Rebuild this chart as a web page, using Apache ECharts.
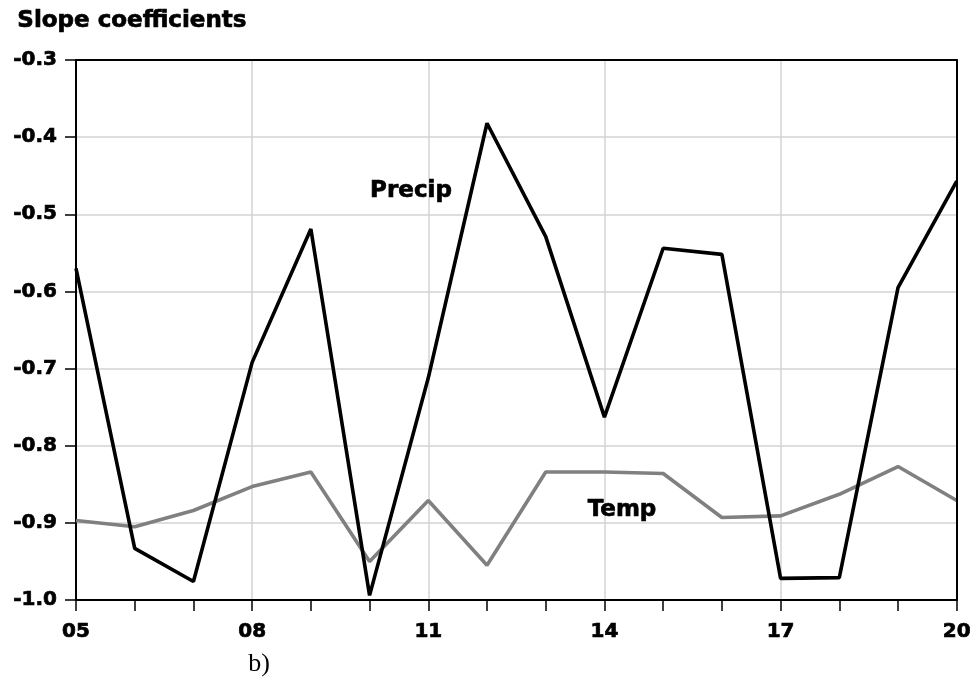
<!DOCTYPE html>
<html>
<head>
<meta charset="utf-8">
<script src="https://cdn.jsdelivr.net/npm/echarts@6/dist/echarts.min.js"></script>
<style>
html,body{margin:0;padding:0;background:#fff;}
#chart{width:974px;height:681px;}
</style>
</head>
<body>
<div id="chart"></div>
<script>
var years = ['05','06','07','08','09','10','11','12','13','14','15','16','17','18','19','20'];
var precip = [-0.570, -0.933, -0.976, -0.692, -0.519, -0.994, -0.712, -0.382, -0.529, -0.763, -0.544, -0.552, -0.972, -0.971, -0.595, -0.457];
var temp = [-0.897, -0.905, -0.884, -0.853, -0.834, -0.950, -0.871, -0.955, -0.834, -0.834, -0.836, -0.893, -0.891, -0.863, -0.827, -0.871];
var yMin = -1.0, yMax = -0.3, yStep = 0.1;

var FONT = 'DejaVu Sans';
var labelStyle = {color: '#000', fontFamily: FONT, fontWeight: 'bold', fontSize: 20, textBorderColor: '#000', textBorderWidth: 0.7};
var chart = echarts.init(document.getElementById('chart'), null, {renderer: 'canvas'});
chart.setOption({
  animation: false,
  backgroundColor: '#ffffff',
  grid: {left: 76, right: 16, top: 60, bottom: 81},
  xAxis: [{
    type: 'category',
    data: years,
    boundaryGap: false,
    axisLine: {show: true, lineStyle: {color: '#000', width: 2}},
    axisTick: {show: true, interval: 0, length: 11, lineStyle: {color: '#000', width: 1.5}},
    axisLabel: Object.assign({interval: 2, margin: 22}, labelStyle),
    splitLine: {show: true, interval: 2, lineStyle: {color: '#d3d3d3', width: 1.5}},
    z: 1
  }, {
    type: 'category',
    data: years,
    position: 'top',
    boundaryGap: false,
    axisLine: {show: true, lineStyle: {color: '#000', width: 2}},
    axisTick: {show: false},
    axisLabel: {show: false},
    splitLine: {show: false},
    z: 5
  }],
  yAxis: [{
    type: 'value',
    min: yMin, max: yMax, interval: yStep,
    axisLine: {show: true, lineStyle: {color: '#000', width: 2}},
    axisTick: {show: true, length: 11, lineStyle: {color: '#000', width: 1.5}},
    axisLabel: Object.assign({margin: 19, formatter: function (v) { return v.toFixed(1); }}, labelStyle),
    splitLine: {show: true, lineStyle: {color: '#d3d3d3', width: 1.5}},
    z: 1
  }, {
    type: 'value',
    position: 'right',
    min: yMin, max: yMax, interval: yStep,
    axisLine: {show: true, lineStyle: {color: '#000', width: 2}},
    axisTick: {show: false},
    axisLabel: {show: false},
    splitLine: {show: false},
    z: 5
  }],
  series: [
    {name: 'Temp', type: 'line', xAxisIndex: 0, yAxisIndex: 0, data: temp, symbol: 'none', lineStyle: {color: '#808080', width: 3.6}, z: 3},
    {name: 'Precip', type: 'line', xAxisIndex: 0, yAxisIndex: 0, data: precip, symbol: 'none', lineStyle: {color: '#000000', width: 3.6}, z: 4}
  ],
  graphic: [
    {type: 'text', left: 17, top: 9, style: {text: 'Slope coefficients', fill: '#000', font: 'bold 23px "DejaVu Sans"', stroke: '#000', lineWidth: 0.7}},
    {type: 'text', x: 411, y: 191, style: {text: 'Precip', fill: '#000', font: 'bold 23px "DejaVu Sans"', align: 'center', verticalAlign: 'middle', stroke: '#000', lineWidth: 0.7}, z: 10},
    {type: 'text', x: 622, y: 510, style: {text: 'Temp', fill: '#000', font: 'bold 23px "DejaVu Sans"', align: 'center', verticalAlign: 'middle', stroke: '#000', lineWidth: 0.7}, z: 10},
    {type: 'text', x: 259, y: 664, style: {text: 'b)', fill: '#000', font: '26px "Liberation Serif"', align: 'center', verticalAlign: 'middle'}}
  ]
});
</script>
</body>
</html>
